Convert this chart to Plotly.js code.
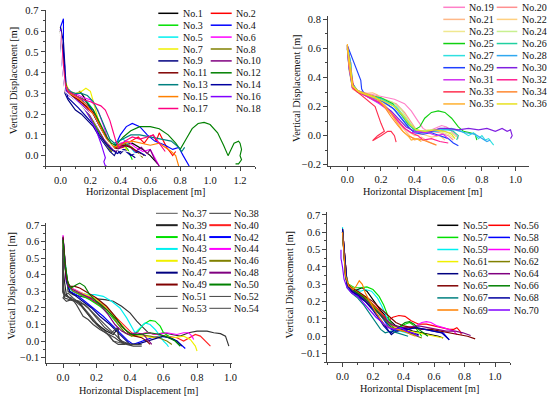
<!DOCTYPE html>
<html><head><meta charset="utf-8">
<script src="https://cdn.plot.ly/plotly-3.0.1.min.js"></script>
<style>html,body{margin:0;padding:0;background:#fff}#c{width:550px;height:398px}</style>
</head><body><div id="c"></div>
<script>
// ---------- Panel 1 (No.1 - No.18) ----------
const n1x=[0.0,0.01,0.02,0.03,0.06,0.1,0.13,0.16,0.22,0.28,0.33,0.36,0.42,0.48,0.55,0.6,0.65];
const n1y=[0.6,0.5,0.4,0.32,0.3,0.29,0.31,0.28,0.2,0.12,0.05,0.03,0.05,0.06,0.03,0.0,-0.04];
const n2x=[0.0,0.01,0.02,0.04,0.08,0.15,0.22,0.28,0.33,0.37,0.42,0.47,0.52,0.56,0.59,0.62,0.64,0.66,0.68,0.71,0.73,0.75,0.77];
const n2y=[0.62,0.5,0.38,0.31,0.29,0.25,0.2,0.12,0.06,0.03,0.04,0.07,0.09,0.06,0.09,0.1,0.07,0.11,0.08,0.04,0.02,0.0,0.02];
const n3x=[0.0,0.01,0.03,0.05,0.1,0.15,0.2,0.25,0.3,0.33,0.37,0.41,0.45,0.48];
const n3y=[0.6,0.48,0.35,0.3,0.27,0.24,0.18,0.12,0.06,0.03,0.05,0.06,0.03,-0.02];
const n4x=[0.0,0.02,0.02,0.03,0.04,0.08,0.14,0.2,0.26,0.3,0.33,0.36,0.4,0.44,0.48,0.53,0.58,0.63,0.7,0.75,0.79,0.82,0.86];
const n4y=[0.62,0.66,0.5,0.42,0.33,0.3,0.27,0.23,0.15,0.09,0.05,0.04,0.1,0.14,0.155,0.14,0.1,0.07,0.05,0.03,0.04,0.0,-0.05];
const n5x=[0.0,0.01,0.03,0.07,0.12,0.18,0.22,0.27,0.31,0.34,0.38,0.42,0.46,0.5];
const n5y=[0.6,0.45,0.33,0.3,0.28,0.26,0.22,0.14,0.07,0.04,0.07,0.08,0.05,0.01];
const n6x=[0.0,0.01,0.03,0.06,0.1,0.15,0.2,0.25,0.29,0.32,0.35,0.4,0.45,0.5,0.55,0.6,0.66];
const n6y=[0.61,0.47,0.33,0.31,0.3,0.28,0.27,0.22,0.14,0.07,0.03,0.06,0.07,0.04,0.02,0.03,-0.05];
const n7x=[0.0,0.01,0.03,0.06,0.1,0.14,0.17,0.2,0.22,0.25,0.28,0.31,0.34,0.38,0.42,0.45,0.47];
const n7y=[0.6,0.5,0.36,0.31,0.3,0.31,0.325,0.31,0.26,0.18,0.12,0.08,0.05,0.04,0.05,0.02,0.0];
const n8x=[0.0,0.02,0.04,0.08,0.13,0.19,0.25,0.3,0.34,0.38,0.43,0.48,0.52,0.55];
const n8y=[0.58,0.45,0.32,0.28,0.25,0.2,0.13,0.06,0.02,0.05,0.06,0.04,0.01,-0.01];
const n9x=[0.0,0.02,0.02,0.03,0.03,0.05,0.08,0.1,0.14,0.18,0.22,0.26,0.3,0.33,0.36,0.38,0.4,0.43,0.46,0.5];
const n9y=[0.6,0.5,0.48,0.38,0.3,0.27,0.24,0.22,0.2,0.17,0.14,0.09,0.05,0.02,0.0,0.03,0.01,0.03,0.01,-0.01];
const n10x=[0.0,0.01,0.03,0.06,0.12,0.18,0.24,0.29,0.33,0.37,0.4,0.45,0.5,0.54,0.58,0.6,0.63,0.66];
const n10y=[0.6,0.46,0.31,0.29,0.26,0.22,0.15,0.08,0.04,0.02,0.04,0.05,0.02,0.04,0.01,0.03,-0.02,-0.05];
const n11x=[0.0,0.02,0.03,0.07,0.12,0.17,0.22,0.26,0.3,0.33,0.37,0.42,0.47,0.52,0.56];
const n11y=[0.59,0.42,0.31,0.29,0.27,0.24,0.21,0.15,0.09,0.05,0.04,0.05,0.04,0.02,0.0];
const n12x=[0.0,0.01,0.03,0.05,0.1,0.16,0.22,0.27,0.31,0.34,0.37,0.42,0.47,0.53,0.6,0.66,0.72,0.77,0.8,0.84,0.88,0.92,0.96,1.0,1.05,1.09,1.12,1.14,1.16,1.19,1.2,1.21,1.2,1.21,1.19,1.17];
const n12y=[0.62,0.5,0.36,0.31,0.29,0.27,0.22,0.15,0.09,0.06,0.05,0.09,0.12,0.14,0.14,0.13,0.1,0.06,0.03,0.08,0.13,0.155,0.16,0.15,0.11,0.05,0.0,0.03,0.06,0.07,0.06,0.03,0.0,-0.02,-0.04,-0.04];
const n13x=[0.0,0.01,0.03,0.06,0.1,0.14,0.18,0.22,0.26,0.3,0.33,0.36,0.41,0.47,0.53,0.6,0.67,0.74,0.79,0.81,0.83,0.82];
const n13y=[0.61,0.47,0.34,0.31,0.3,0.3,0.29,0.26,0.2,0.13,0.08,0.06,0.08,0.1,0.1,0.09,0.08,0.07,0.04,0.02,0.04,0.03];
const n14x=[0.0,0.02,0.03,0.03,0.05,0.08,0.12,0.17,0.22,0.26,0.3,0.34,0.38,0.42,0.47,0.52,0.57];
const n14y=[0.62,0.55,0.43,0.33,0.28,0.26,0.23,0.19,0.15,0.1,0.06,0.03,0.01,0.03,0.0,0.02,0.0];
const n15x=[0.0,0.01,0.03,0.06,0.11,0.17,0.23,0.28,0.32,0.36,0.42,0.48,0.54,0.6,0.66,0.7,0.74,0.77,0.79];
const n15y=[0.6,0.48,0.34,0.3,0.28,0.25,0.19,0.12,0.06,0.04,0.06,0.07,0.06,0.05,0.06,0.04,0.02,0.0,-0.05];
const n16x=[0.0,0.01,0.03,0.06,0.1,0.15,0.2,0.24,0.27,0.29,0.3,0.29,0.3,0.31];
const n16y=[0.61,0.45,0.32,0.29,0.27,0.24,0.18,0.12,0.06,0.02,-0.01,-0.03,-0.05,-0.05];
const n17x=[0.0,0.01,0.03,0.05,0.1,0.15,0.2,0.24,0.27,0.3,0.33,0.35,0.37,0.39,0.43,0.48,0.53,0.58,0.62,0.65,0.68,0.7];
const n17y=[0.6,0.5,0.35,0.31,0.29,0.27,0.26,0.25,0.24,0.22,0.17,0.12,0.07,0.04,0.07,0.09,0.08,0.09,0.1,0.07,0.04,0.02];
const n18x=[0.0,0.01,0.03,0.08,0.2,0.3,0.36,0.45,0.55];
const n18y=[0.6,0.45,0.31,0.28,0.2,0.08,0.03,0.02,0.0];

// ---------- Panel 2 (No.19 - No.36) ----------
const n19x=[0.0,0.01,0.03,0.06,0.12,0.2,0.28,0.34,0.38,0.42,0.45,0.48,0.52,0.56,0.59,0.62,0.65,0.66];
const n19y=[0.62,0.5,0.36,0.31,0.29,0.27,0.25,0.22,0.17,0.1,0.05,0.03,0.05,0.07,0.06,0.03,0.0,-0.02];
const n20x=[0.0,0.01,0.03,0.07,0.14,0.22,0.29,0.34,0.38,0.41,0.45,0.5,0.55,0.6,0.63];
const n20y=[0.6,0.48,0.34,0.3,0.28,0.25,0.22,0.16,0.09,0.04,0.02,0.03,0.02,0.0,-0.03];
const n21x=[0.0,0.01,0.03,0.06,0.1,0.15,0.18,0.22,0.26,0.3,0.34,0.37,0.4,0.44,0.48,0.52];
const n21y=[0.61,0.45,0.33,0.3,0.29,0.295,0.28,0.22,0.15,0.09,0.04,0.0,-0.03,-0.01,-0.04,-0.06];
const n22x=[0.0,0.02,0.03,0.08,0.15,0.22,0.28,0.32,0.36,0.4,0.45,0.5,0.55,0.58];
const n22y=[0.6,0.45,0.32,0.29,0.26,0.21,0.14,0.08,0.03,0.0,0.01,-0.01,0.0,-0.03];
const n23x=[0.0,0.01,0.03,0.07,0.14,0.22,0.3,0.35,0.39,0.43,0.48,0.54,0.6,0.64];
const n23y=[0.62,0.47,0.33,0.3,0.27,0.24,0.19,0.12,0.06,0.03,0.04,0.03,0.01,-0.02];
const n24x=[0.0,0.01,0.03,0.06,0.12,0.2,0.27,0.32,0.36,0.4,0.44,0.5,0.56,0.62,0.65];
const n24y=[0.61,0.5,0.35,0.3,0.28,0.26,0.23,0.18,0.11,0.05,0.03,0.04,0.03,0.02,-0.01];
const n25x=[0.0,0.01,0.03,0.06,0.12,0.2,0.27,0.32,0.36,0.4,0.43,0.46,0.5,0.54,0.58,0.62,0.66,0.69,0.73,0.76,0.77];
const n25y=[0.62,0.5,0.36,0.3,0.28,0.26,0.22,0.15,0.08,0.04,0.06,0.12,0.16,0.17,0.16,0.12,0.06,0.03,0.02,0.01,-0.03];
const n26x=[0.0,0.02,0.03,0.06,0.13,0.21,0.28,0.33,0.37,0.41,0.46,0.52,0.58,0.63,0.66,0.65];
const n26y=[0.62,0.5,0.36,0.31,0.28,0.25,0.2,0.13,0.07,0.03,0.02,0.04,0.05,0.03,0.0,-0.03];
const n27x=[0.0,0.01,0.03,0.07,0.14,0.22,0.29,0.34,0.38,0.42,0.48,0.55,0.62,0.68,0.72,0.75,0.78,0.8,0.82,0.84,0.87];
const n27y=[0.6,0.46,0.33,0.3,0.27,0.24,0.2,0.13,0.07,0.03,0.03,0.04,0.05,0.03,0.0,0.02,-0.02,0.0,-0.03,-0.02,-0.065];
const n28x=[0.0,0.02,0.03,0.06,0.12,0.2,0.27,0.32,0.36,0.4,0.46,0.52,0.58,0.64,0.7,0.76,0.8,0.83,0.85];
const n28y=[0.61,0.5,0.36,0.3,0.27,0.24,0.19,0.12,0.06,0.02,0.02,0.03,0.04,0.04,0.02,0.01,-0.02,-0.04,-0.03];
const n29x=[0.0,0.02,0.04,0.06,0.08,0.085,0.1,0.15,0.22,0.28,0.33,0.37,0.4,0.45,0.5,0.55,0.6,0.63,0.66];
const n29y=[0.62,0.56,0.5,0.45,0.38,0.32,0.29,0.27,0.23,0.18,0.11,0.05,0.02,0.01,0.02,0.0,-0.02,-0.05,-0.07];
const n30x=[0.0,0.01,0.03,0.07,0.13,0.2,0.26,0.31,0.35,0.4,0.45,0.5,0.55,0.6,0.66,0.72,0.78,0.83,0.88,0.92,0.95,0.97,0.98,0.97];
const n30y=[0.6,0.47,0.34,0.3,0.26,0.22,0.17,0.11,0.06,0.03,0.02,0.03,0.05,0.05,0.04,0.05,0.04,0.05,0.03,0.05,0.03,0.04,0.0,-0.02];
const n31x=[0.0,0.01,0.03,0.07,0.13,0.19,0.25,0.3,0.34,0.38,0.43,0.48,0.53,0.57,0.6];
const n31y=[0.6,0.47,0.33,0.3,0.26,0.22,0.17,0.1,0.05,0.02,0.03,0.02,0.0,0.01,-0.02];
const n32x=[0.0,0.02,0.03,0.06,0.12,0.19,0.25,0.3,0.34,0.38,0.42,0.45,0.5,0.55,0.6];
const n32y=[0.61,0.46,0.33,0.3,0.27,0.23,0.17,0.1,0.05,0.02,0.0,-0.03,-0.02,-0.04,-0.05];
const n33x=[0.0,0.02,0.04,0.1,0.165,0.2,0.22,0.18,0.15,0.2,0.24,0.26,0.28,0.29];
const n33y=[0.62,0.45,0.32,0.26,0.2,0.085,0.03,0.0,-0.035,0.0,0.03,0.03,0.0,-0.045];
const n34x=[0.0,0.01,0.03,0.07,0.12,0.17,0.22,0.26,0.3,0.33,0.36,0.4,0.45,0.49,0.53];
const n34y=[0.62,0.48,0.34,0.3,0.28,0.26,0.2,0.13,0.07,0.03,0.0,-0.02,-0.03,-0.05,-0.065];
const n35x=[0.0,0.01,0.03,0.06,0.11,0.16,0.21,0.26,0.3,0.33,0.36,0.38,0.41,0.44];
const n35y=[0.63,0.5,0.35,0.31,0.29,0.27,0.22,0.15,0.08,0.03,0.0,-0.03,-0.02,-0.04];
const n36x=[0.0,0.02,0.03,0.07,0.14,0.21,0.28,0.33,0.37,0.41,0.46,0.52,0.58,0.62,0.64];
const n36y=[0.6,0.47,0.34,0.3,0.27,0.24,0.2,0.14,0.08,0.04,0.03,0.04,0.03,0.01,-0.02];

// ---------- Panel 3 (No.37 - No.54) ----------
const n37x=[0.0,0.0,0.0,0.01,0.03,0.06,0.1,0.15,0.2,0.25,0.28,0.3,0.34,0.4,0.47];
const n37y=[0.6,0.45,0.3,0.27,0.29,0.26,0.23,0.17,0.11,0.06,0.02,0.0,-0.01,-0.02,-0.02];
const n38x=[0.0,0.01,0.02,0.03,0.06,0.1,0.15,0.2,0.25,0.3,0.35,0.4,0.44,0.48,0.51,0.55,0.6,0.65,0.7,0.75,0.8,0.86,0.9,0.94,0.97,0.98,0.99];
const n38y=[0.62,0.5,0.38,0.3,0.28,0.27,0.26,0.255,0.25,0.24,0.21,0.17,0.12,0.08,0.05,0.04,0.05,0.04,0.03,0.05,0.06,0.06,0.05,0.045,0.03,0.0,-0.03];
const n39x=[0.0,0.0,0.01,0.02,0.05,0.09,0.12,0.15,0.18,0.22,0.26,0.3,0.33,0.33,0.36,0.4,0.44];
const n39y=[0.58,0.45,0.35,0.28,0.25,0.24,0.2,0.16,0.12,0.09,0.06,0.04,0.08,0.02,-0.01,-0.02,-0.02];
const n40x=[0.0,0.01,0.02,0.04,0.07,0.1,0.15,0.2,0.26,0.32,0.37,0.41,0.45,0.5,0.56,0.62,0.68,0.72,0.76,0.79,0.82,0.85,0.88];
const n40y=[0.62,0.5,0.38,0.32,0.31,0.29,0.26,0.23,0.19,0.14,0.09,0.05,0.04,0.05,0.04,0.03,0.02,0.0,0.02,0.04,0.03,0.0,-0.03];
const n41x=[0.0,0.01,0.03,0.06,0.1,0.16,0.22,0.28,0.33,0.37,0.41,0.45,0.48,0.52,0.55,0.58,0.6,0.63,0.66,0.7];
const n41y=[0.6,0.45,0.32,0.3,0.28,0.25,0.21,0.16,0.1,0.05,0.03,0.06,0.1,0.125,0.12,0.09,0.05,0.03,0.01,-0.03];
const n42x=[0.0,0.01,0.02,0.04,0.08,0.13,0.18,0.24,0.3,0.35,0.39,0.42,0.47,0.53,0.58,0.63,0.68,0.73];
const n42y=[0.63,0.5,0.37,0.3,0.28,0.24,0.2,0.15,0.09,0.04,0.0,-0.02,0.0,0.02,0.03,0.02,0.0,-0.045];
const n43x=[0.0,0.01,0.03,0.06,0.1,0.15,0.19,0.24,0.29,0.34,0.38,0.41,0.43,0.46,0.49,0.52,0.55,0.58,0.6,0.62,0.63];
const n43y=[0.62,0.5,0.33,0.3,0.29,0.28,0.28,0.27,0.24,0.2,0.14,0.08,0.05,0.08,0.11,0.1,0.07,0.03,0.0,-0.02,-0.034];
const n44x=[0.0,0.01,0.02,0.05,0.09,0.14,0.2,0.26,0.31,0.35,0.39,0.44,0.5,0.56,0.62,0.68,0.72,0.75,0.77,0.78];
const n44y=[0.64,0.5,0.36,0.32,0.3,0.28,0.25,0.2,0.14,0.09,0.05,0.04,0.05,0.04,0.05,0.04,0.05,0.05,0.03,0.01];
const n45x=[0.0,0.01,0.03,0.06,0.11,0.17,0.23,0.29,0.34,0.38,0.42,0.48,0.54,0.6,0.66,0.72,0.76,0.79,0.8];
const n45y=[0.6,0.47,0.34,0.31,0.29,0.27,0.23,0.17,0.11,0.06,0.03,0.03,0.02,0.03,0.02,0.03,0.01,-0.03,-0.06];
const n46x=[0.0,0.01,0.03,0.06,0.11,0.17,0.23,0.29,0.33,0.37,0.41,0.46,0.52,0.57,0.62,0.65];
const n46y=[0.61,0.48,0.34,0.3,0.28,0.26,0.22,0.16,0.1,0.05,0.03,0.04,0.03,0.02,0.0,-0.02];
const n47x=[0.0,0.01,0.02,0.04,0.08,0.12,0.17,0.22,0.28,0.33,0.37,0.4,0.44,0.5,0.56,0.6,0.64,0.68,0.71];
const n47y=[0.62,0.5,0.36,0.3,0.27,0.24,0.2,0.15,0.1,0.05,0.01,-0.02,-0.02,0.0,0.02,0.03,0.02,0.0,-0.03];
const n48x=[0.0,0.01,0.03,0.06,0.1,0.16,0.22,0.27,0.31,0.35,0.39,0.44,0.48,0.51,0.53];
const n48y=[0.6,0.46,0.33,0.31,0.29,0.26,0.22,0.16,0.1,0.06,0.04,0.05,0.04,0.0,-0.02];
const n49x=[0.0,0.01,0.02,0.04,0.07,0.1,0.15,0.2,0.26,0.31,0.35,0.39,0.43,0.47,0.5,0.52];
const n49y=[0.63,0.5,0.38,0.33,0.33,0.32,0.29,0.26,0.21,0.15,0.09,0.05,0.03,0.02,0.0,-0.02];
const n50x=[0.0,0.01,0.03,0.05,0.08,0.1,0.13,0.16,0.2,0.26,0.32,0.37,0.41,0.46,0.52,0.58,0.63,0.67,0.7];
const n50y=[0.61,0.48,0.35,0.32,0.34,0.35,0.33,0.28,0.24,0.19,0.13,0.07,0.04,0.04,0.05,0.04,0.02,0.0,-0.03];
const n51x=[0.0,0.0,0.0,0.02,0.05,0.08,0.1,0.12,0.15,0.18,0.22,0.27,0.31,0.35,0.38];
const n51y=[0.55,0.4,0.3,0.27,0.26,0.22,0.18,0.15,0.13,0.1,0.07,0.04,0.02,-0.01,-0.02];
const n52x=[0.0,0.0,0.01,0.0,0.02,0.05,0.1,0.15,0.2,0.25,0.29,0.32,0.33,0.34,0.38,0.42,0.47];
const n52y=[0.5,0.35,0.28,0.26,0.24,0.25,0.24,0.2,0.14,0.08,0.05,0.08,0.04,0.0,-0.02,-0.03,-0.03];
const n53x=[0.0,0.0,0.01,0.04,0.08,0.13,0.18,0.23,0.28,0.32,0.35,0.4,0.45];
const n53y=[0.45,0.3,0.26,0.25,0.24,0.22,0.17,0.12,0.07,0.03,0.0,-0.02,-0.02];
const n54x=[0.0,0.0,0.02,0.06,0.11,0.16,0.2,0.24,0.28,0.3,0.33,0.37];
const n54y=[0.4,0.29,0.27,0.25,0.21,0.15,0.1,0.06,0.03,0.0,-0.02,-0.02];

// ---------- Panel 4 (No.55 - No.70) ----------
const n55x=[0.0,0.01,0.02,0.03,0.06,0.1,0.13,0.16,0.2,0.25,0.3,0.35,0.4,0.46,0.52,0.58,0.63,0.66];
const n55y=[0.6,0.48,0.36,0.3,0.27,0.27,0.28,0.26,0.21,0.15,0.1,0.06,0.05,0.03,0.02,0.01,0.0,-0.01];
const n56x=[0.0,0.01,0.02,0.03,0.07,0.12,0.17,0.22,0.27,0.3,0.33,0.37,0.41,0.45,0.5,0.55,0.6,0.65,0.7,0.73,0.75,0.77,0.78];
const n56y=[0.62,0.5,0.38,0.3,0.27,0.24,0.21,0.17,0.12,0.09,0.11,0.12,0.115,0.09,0.07,0.07,0.06,0.05,0.04,0.04,0.05,0.03,0.01];
const n57x=[0.0,0.01,0.02,0.04,0.08,0.12,0.16,0.2,0.24,0.27,0.29,0.31,0.33,0.37,0.41,0.44,0.47,0.5,0.52];
const n57y=[0.61,0.48,0.35,0.3,0.28,0.28,0.285,0.27,0.23,0.18,0.13,0.09,0.06,0.05,0.07,0.08,0.06,0.02,0.0];
const n58x=[0.0,0.01,0.02,0.03,0.06,0.1,0.15,0.2,0.25,0.29,0.32,0.36,0.42,0.48,0.54,0.6,0.66,0.7];
const n58y=[0.6,0.48,0.36,0.29,0.26,0.24,0.21,0.17,0.12,0.07,0.04,0.03,0.04,0.05,0.04,0.03,0.02,-0.02];
const n59x=[0.0,0.01,0.02,0.04,0.08,0.12,0.15,0.19,0.23,0.26,0.29,0.31,0.34,0.38,0.42,0.46,0.5];
const n59y=[0.63,0.5,0.37,0.3,0.27,0.26,0.27,0.26,0.22,0.17,0.11,0.07,0.04,0.03,0.02,0.01,0.0];
const n60x=[0.0,0.01,0.02,0.04,0.08,0.13,0.18,0.23,0.28,0.33,0.38,0.43,0.48,0.52,0.55,0.58,0.62,0.66,0.7,0.73,0.75];
const n60y=[0.6,0.47,0.35,0.29,0.26,0.23,0.19,0.14,0.09,0.06,0.05,0.05,0.06,0.08,0.085,0.08,0.06,0.05,0.04,0.03,0.01];
const n61x=[0.0,0.01,0.02,0.04,0.08,0.13,0.18,0.23,0.28,0.33,0.38,0.44,0.5,0.56,0.61,0.66];
const n61y=[0.61,0.48,0.36,0.3,0.27,0.24,0.2,0.15,0.1,0.06,0.04,0.03,0.02,0.01,0.0,-0.01];
const n62x=[0.0,0.01,0.02,0.04,0.08,0.12,0.17,0.22,0.27,0.31,0.35,0.4,0.45,0.49,0.52];
const n62y=[0.6,0.45,0.34,0.29,0.26,0.24,0.21,0.16,0.11,0.07,0.04,0.03,0.02,0.0,-0.01];
const n63x=[0.0,0.01,0.02,0.03,0.06,0.1,0.15,0.2,0.24,0.27,0.3,0.32,0.35,0.4,0.45,0.5];
const n63y=[0.62,0.5,0.38,0.3,0.26,0.23,0.2,0.16,0.11,0.07,0.03,0.01,0.03,0.04,0.02,0.01];
const n64x=[0.0,0.01,0.02,0.03,0.07,0.12,0.17,0.22,0.27,0.32,0.37,0.43,0.5,0.56,0.62,0.68,0.74,0.79,0.84];
const n64y=[0.6,0.47,0.35,0.29,0.26,0.23,0.19,0.15,0.11,0.07,0.05,0.05,0.06,0.05,0.04,0.03,0.03,0.02,0.005];
const n65x=[0.0,0.01,0.02,0.03,0.06,0.1,0.15,0.2,0.25,0.3,0.35,0.4,0.46,0.52,0.58,0.64,0.7,0.76,0.82,0.87];
const n65y=[0.62,0.5,0.38,0.31,0.28,0.26,0.23,0.2,0.16,0.12,0.08,0.06,0.05,0.04,0.04,0.03,0.02,0.01,0.0,-0.015];
const n66x=[0.0,0.01,0.02,0.04,0.08,0.13,0.18,0.23,0.28,0.32,0.35,0.38,0.41,0.44,0.47,0.5,0.53,0.56];
const n66y=[0.6,0.46,0.34,0.29,0.26,0.23,0.19,0.14,0.09,0.05,0.04,0.06,0.08,0.085,0.07,0.04,0.02,0.0];
const n67x=[0.0,0.01,0.02,0.03,0.06,0.1,0.14,0.18,0.22,0.25,0.28,0.32,0.36,0.4,0.43];
const n67y=[0.61,0.48,0.35,0.28,0.25,0.22,0.18,0.13,0.08,0.04,0.02,0.03,0.02,0.01,0.0];
const n68x=[0.0,0.01,0.02,0.03,0.06,0.1,0.15,0.2,0.24,0.27,0.3,0.32,0.34,0.38,0.43,0.48,0.54,0.6,0.65,0.7];
const n68y=[0.62,0.5,0.37,0.3,0.26,0.24,0.2,0.15,0.1,0.06,0.03,0.02,0.04,0.05,0.04,0.05,0.04,0.03,0.02,-0.02];
const n69x=[0.0,0.01,0.02,0.04,0.07,0.09,0.11,0.13,0.15,0.18,0.21,0.24,0.27,0.31,0.35,0.4,0.45,0.48];
const n69y=[0.6,0.47,0.35,0.29,0.27,0.29,0.32,0.3,0.25,0.2,0.15,0.11,0.07,0.05,0.04,0.03,0.01,0.0];
const n70x=[-0.01,-0.01,0.0,0.01,0.03,0.06,0.1,0.14,0.18,0.22,0.26,0.3,0.34,0.38,0.42,0.46,0.5];
const n70y=[0.5,0.45,0.4,0.33,0.28,0.25,0.23,0.19,0.15,0.11,0.08,0.05,0.04,0.05,0.03,0.02,0.0];

const xs1=[n1x,n2x,n3x,n4x,n5x,n6x,n7x,n8x,n9x,n10x,n11x,n12x,n13x,n14x,n15x,n16x,n17x,n18x];
const ys1=[n1y,n2y,n3y,n4y,n5y,n6y,n7y,n8y,n9y,n10y,n11y,n12y,n13y,n14y,n15y,n16y,n17y,n18y];
const xs2=[n19x,n20x,n21x,n22x,n23x,n24x,n25x,n26x,n27x,n28x,n29x,n30x,n31x,n32x,n33x,n34x,n35x,n36x];
const ys2=[n19y,n20y,n21y,n22y,n23y,n24y,n25y,n26y,n27y,n28y,n29y,n30y,n31y,n32y,n33y,n34y,n35y,n36y];
const xs3=[n37x,n38x,n39x,n40x,n41x,n42x,n43x,n44x,n45x,n46x,n47x,n48x,n49x,n50x,n51x,n52x,n53x,n54x];
const ys3=[n37y,n38y,n39y,n40y,n41y,n42y,n43y,n44y,n45y,n46y,n47y,n48y,n49y,n50y,n51y,n52y,n53y,n54y];
const xs4=[n55x,n56x,n57x,n58x,n59x,n60x,n61x,n62x,n63x,n64x,n65x,n66x,n67x,n68x,n69x,n70x];
const ys4=[n55y,n56y,n57y,n58y,n59y,n60y,n61y,n62y,n63y,n64y,n65y,n66y,n67y,n68y,n69y,n70y];

const colors1=['#000000','#ff0000','#00e000','#0000ff','#00f0f0','#ff00ff','#f0f000','#808000','#000080','#800080','#800000','#008000','#008080','#0000a0','#ff8000','#8000ff','#ff0080','#ffffff'];
const colors2=['#ff80c8','#ff9090','#ffb888','#ffd080','#f0e890','#c8f090','#10d010','#20d0a0','#30e0e0','#30a8f0','#2040ff','#8020e0','#d030f0','#ff2090','#ff3050','#ff8830','#ffb030','#e8e020'];
const colors3=['#555555','#333333','#222222','#ff2020','#00e000','#0000ff','#00f0f0','#ff00ff','#f0f000','#808000','#000080','#800080','#800000','#008000','#444444','#444444','#444444','#444444'];
const colors4=['#000000','#ff0000','#00e000','#0000ff','#00f0f0','#ff00ff','#f0f000','#808000','#000080','#800080','#800000','#008000','#008080','#0000a0','#ff8000','#8000ff'];
const start1=1, start2=19, start3=37, start4=55;

const FONT='"Liberation Serif","Times New Roman",serif';
const traces=[];
function addTraces(xs,ys,cols,start,ax){
  for(let i=0;i<xs.length;i++){
    traces.push({type:'scatter',mode:'lines',x:xs[i],y:ys[i],name:'No.'+(start+i),
      xaxis:'x'+ax,yaxis:'y'+ax,line:{color:cols[i],width:1.15},showlegend:false,hoverinfo:'skip'});
  }
}
addTraces(xs1,ys1,colors1,start1,'');
addTraces(xs2,ys2,colors2,start2,'2');
addTraces(xs3,ys3,colors3,start3,'3');
addTraces(xs4,ys4,colors4,start4,'4');

const W=550,H=398;
const px=v=>v/W, py=v=>1-v/H;
function ax(dom,range,dtick,minor,fmt){
  return {domain:dom,range:range,dtick:dtick,tick0:0,tickformat:fmt,showline:true,linecolor:'#444',linewidth:1,
    ticks:'outside',ticklen:4,tickcolor:'#444',tickwidth:1,showgrid:false,zeroline:false,
    minor:{ticks:'outside',ticklen:2,tickcolor:'#444',dtick:minor,tick0:0,showgrid:false},
    tickfont:{family:FONT,size:10.5,color:'#111'},fixedrange:true};
}
const layout={width:W,height:H,margin:{l:0,r:0,t:0,b:0},paper_bgcolor:'#fff',plot_bgcolor:'rgba(0,0,0,0)',showlegend:false,
  xaxis:Object.assign(ax([px(45.5),px(255)],[-0.1,1.3],0.2,0.1,'.1f'),{anchor:'y'}),
  yaxis:Object.assign(ax([py(166),py(10.4)],[-0.05,0.7005],0.1,0.05,'.1f'),{anchor:'x'}),
  xaxis2:Object.assign(ax([px(328),px(529)],[-0.115,1.08],0.2,0.1,'.1f'),{anchor:'y2'}),
  yaxis2:Object.assign(ax([py(165.5),py(16.4)],[-0.205,0.82],0.2,0.1,'.1f'),{anchor:'x2'}),
  xaxis3:Object.assign(ax([px(46.25),px(232.2)],[-0.1,1.01],0.2,0.1,'.1f'),{anchor:'y3'}),
  yaxis3:Object.assign(ax([py(363.3),py(223.4)],[-0.134,0.71],0.1,0.05,'.1f'),{anchor:'x3'}),
  xaxis4:Object.assign(ax([px(327.25),px(510.25)],[-0.1,1.1],0.2,0.1,'.1f'),{anchor:'y4'}),
  yaxis4:Object.assign(ax([py(362.3),py(211.5)],[-0.15,0.72],0.1,0.05,'.1f'),{anchor:'x4'}),
  shapes:[],annotations:[]};

// axis titles
const titles=[[145.5,191.7,13.3,80],[422.8,191.7,296.7,88.3],[138.8,390,11.7,285.8],[419.7,388.3,289,284.5]];
titles.forEach(t=>{
  layout.annotations.push({xref:'paper',yref:'paper',x:px(t[0]),y:py(t[1]),text:'Horizontal Displacement [m]',showarrow:false,xanchor:'center',yanchor:'middle',font:{family:FONT,size:10.2,color:'#111'}});
  layout.annotations.push({xref:'paper',yref:'paper',x:px(t[2]),y:py(t[3]),text:'Vertical Displacement [m]',textangle:-90,showarrow:false,xanchor:'center',yanchor:'middle',font:{family:FONT,size:10.2,color:'#111'}});
});

// manual two-column legends
function legend(cols,start,count,c1,c2,y0,dy,widths){
  for(let i=0;i<count;i++){
    const col=i%2, row=Math.floor(i/2);
    const c=col===0?c1:c2;
    const y=y0+row*dy;
    const lw=widths?widths[i]:1.5;
    layout.shapes.push({type:'line',xref:'paper',yref:'paper',x0:px(c[0]),x1:px(c[1]),y0:py(y),y1:py(y),line:{color:cols[i],width:lw}});
    layout.annotations.push({xref:'paper',yref:'paper',x:px(c[2]-1),y:py(y),text:'No.'+(start+i),showarrow:false,xanchor:'left',yanchor:'middle',font:{family:FONT,size:10,color:'#111'}});
  }
}
legend(colors1,start1,18,[158.3,178.3,181.5],[210.7,231.7,235],13.3,11.9);
legend(colors2,start2,18,[443.3,465,468.3],[496.7,517.3,520.7],7.3,12.08);
legend(colors3,start3,18,[156,177.7,180.7],[209.3,231,233.3],213.3,11.875,[1,1,2,2,2,2,2,2,2,2,2,2,2,2,1,1,1,1]);
legend(colors4,start4,16,[437.3,458.3,461.7],[488.3,510,513.3],225.3,12.1);

Plotly.newPlot('c',traces,layout,{staticPlot:true,displayModeBar:false});
</script></body></html>
